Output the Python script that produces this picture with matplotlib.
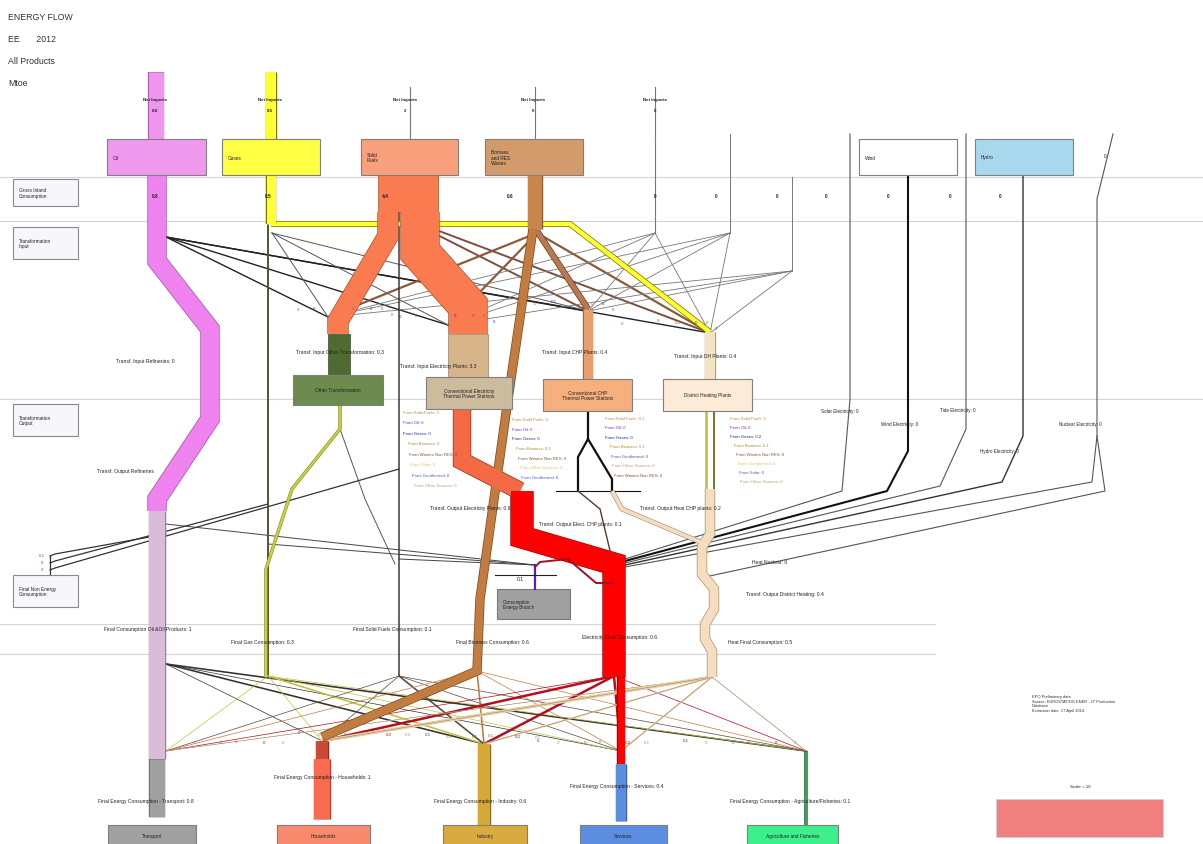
import matplotlib
matplotlib.use('Agg')
import matplotlib.pyplot as plt
from matplotlib.patches import Rectangle

plt.rcParams['font.family'] = ['Liberation Sans', 'DejaVu Sans']

# ---------------- data (Mtoe) ----------------
header = ['ENERGY FLOW', 'EE       2012', 'All Products', 'Mtoe']
products = ['Oil', 'Gases', 'Solid\nFuels', 'Biomass\nand RES\nWastes', 'Wind', 'Hydro']
net_imports = ['0.8', '0.5', '2', '0', '0']
gross_inland = ['0.8', '0.5', '4.4', '0.6', '0', '0', '0', '0', '0', '0', '0']
stages = ['Gross Inland\nConsumption', 'Transformation\nInput', 'Transformation\nOutput',
          'Final Non Energy\nConsumption']
plants = ['Other Transformation', 'Conventional Electricity\nThermal Power Stations',
          'Conventional CHP\nThermal Power Stations', 'District Heating Plants']
transf_input = ['Transf. Input Refineries: 0', 'Transf. Input Other Transformation: 0.3',
                'Transf. Input Electricity Plants: 3.3', 'Transf. Input CHP Plants: 0.4',
                'Transf. Input DH Plants: 0.4']
transf_output = ['Transf. Output Refineries', 'Transf. Output Electricity Plants: 0.9',
                 'Transf. Output Elect. CHP plants: 0.1', 'Transf. Output Heat CHP plants: 0.2',
                 'Transf. Output District Heating: 0.4', 'Heat Nuclear: 0']
res_elec = ['Solar Electricity: 0', 'Wind Electricity: 0', 'Tide Electricity: 0',
            'Hydro Electricity: 0', 'Nuclear Electricity: 0']
from_elec = ['From Solid Fuels: 3', 'From Oil: 0', 'From Gases: 0', 'From Biomass: 0',
             'From Wastes Non RES: 0', 'From Solar: 0', 'From Geothermal: 0', 'From Other Sources: 0']
from_chp_e = ['From Solid Fuels: 0', 'From Oil: 0', 'From Gases: 0', 'From Biomass: 0.1',
              'From Wastes Non RES: 0', 'From Other Sources: 0', 'From Geothermal: 0']
from_chp_h = ['From Solid Fuels: 0.1', 'From Oil: 0', 'From Gases: 0', 'From Biomass: 0.1',
              'From Geothermal: 0', 'From Other Sources: 0', 'From Wastes Non RES: 0']
from_dh = ['From Solid Fuels: 0', 'From Oil: 0', 'From Gases: 0.2', 'From Biomass: 0.1',
           'From Wastes Non RES: 0', 'From Geothermal: 0', 'From Solar: 0', 'From Other Sources: 0']
from_cols = ['#b98a55', '#7a2fc0', '#1f2d80', '#a89030', '#7a5a3a', '#d8c860', '#4a5cc0', '#c0a070']
final_fuel = ['Final Consumption Oil &Oil Products: 1', 'Final Gas Consumption: 0.3',
              'Final Solid Fuels Consumption: 0.1', 'Final Biomass Consumption: 0.6',
              'Electricity Final Consumption: 0.6', 'Heat Final Consumption: 0.5']
sectors = ['Transport', 'Households', 'Industry', 'Services', 'Agriculture and Fisheries']
sector_totals = ['0.8', '1', '0.6', '0.4', '0.1']
# fuel -> sector matrix (rows: oil, gas, solid, biomass, electricity, heat)
fuel_to_sector = [
    [0.8, 0.0, 0.1, 0.0, 0.1],
    [0.0, 0.0, 0.1, 0.0, 0.0],
    [0.0, 0.0, 0.1, 0.0, 0.0],
    [0.0, 0.5, 0.1, 0.0, 0.0],
    [0.0, 0.2, 0.2, 0.2, 0.0],
    [0.0, 0.3, 0.1, 0.1, 0.0],
]
# fuel column -> plant matrix (transformation input, thin links)
ti_values = [
    [0, 0, 0, 0],
    [0, 0, 0, None],
    [None, None, 0.1, 0],
    [0, 0, None, 0.1],
    [0, 0, 0, 0],
    [0, 0, 0, 0],
    [0, 0, 0, 0],
]
non_energy = ['0.1', '0', '0']
notes = 'EPO Preliminary data\nSource: EUROSTAT/DG ENER - LT Production\nDatabase\nExtraction date: 17 April 2014'

# ---------------- figure ----------------
fig = plt.figure(figsize=(12.03, 8.45), dpi=100)
ax = fig.add_axes([0, 0, 1, 1])
ax.set_xlim(0, 1203)
ax.set_ylim(845, 0)
ax.axis('off')

FS = 3.6


def path(pts, w, color, edge=None, z=3, ew=0.7):
    xs = [p[0] for p in pts]
    ys = [p[1] for p in pts]
    if edge:
        ax.plot(xs, ys, color=edge, lw=(w + 2 * ew) * 0.72, solid_capstyle='butt',
                solid_joinstyle='miter', zorder=z)
    ax.plot(xs, ys, color=color, lw=w * 0.72, solid_capstyle='butt',
            solid_joinstyle='miter', zorder=z + 0.01)


def box(x0, y0, x1, y1, fc, label='', ec='#7f7f7f', fs=FS, z=5, center=False, tc='#222222'):
    ax.add_patch(Rectangle((x0, y0), x1 - x0, y1 - y0, fc=fc, ec=ec, lw=0.8, zorder=z))
    if label:
        if center:
            ax.text((x0 + x1) / 2, (y0 + y1) / 2, label, fontsize=fs, ha='center', va='center',
                    zorder=z + 1, color=tc, linespacing=1.1)
        else:
            ax.text(x0 + 6, (y0 + y1) / 2, label, fontsize=fs, ha='left', va='center',
                    zorder=z + 1, color=tc, linespacing=1.1)


def txt(x, y, s, fs=FS, c='#222222', ha='center', z=8, fw='normal'):
    ax.text(x, y, s, fontsize=fs, color=c, ha=ha, va='center', zorder=z, fontweight=fw)


# header
for i, h in enumerate(header):
    ax.text(8, 17 + 22 * i, h, fontsize=6.3, color='#333333', ha='left', va='center')

# separators
for y, x1 in [(178, 1203), (222, 1203), (400, 1203), (625, 935), (655, 935)]:
    ax.plot([0, x1], [y, y], color='#d4d4d4', lw=0.8, zorder=1)

# stage boxes on the left
for lab, (y0, y1) in zip(stages, [(180, 207), (228, 260), (405, 437), (576, 608)]):
    box(13, y0, 78, y1, '#f6f6fb', lab, ec='#8a8a8a', fs=3.4)

# net imports
ni_x = [155, 270, 405, 533, 655]
for x, v in zip(ni_x, net_imports):
    txt(x, 100, 'Net Imports', fs=3.2, fw='bold')
    txt(x, 111, v, fs=3.2, fw='bold')
path([(155.5, 73), (155.5, 140)], 15, '#ee95ee', edge='#b060b0', z=2)
path([(271, 73), (271, 140)], 10, '#ffff33', edge='#777700', z=2)
for x in [410, 535, 655]:
    ax.plot([x, x], [88, 140], color='#777777', lw=0.8, zorder=2)
ax.plot([655, 655], [140, 234], color='#777777', lw=0.8, zorder=2)

# product boxes
prod_box = [(107, 206, '#ee99ee'), (222, 320, '#ffff44'), (361, 458, '#f9a07c'),
            (485, 583, '#d29b6c'), (859, 957, '#ffffff'), (975, 1073, '#a8d8ee')]
for lab, (x0, x1, c) in zip(products, prod_box):
    box(x0, 140, x1, 176, c, lab, fs=3.4)
txt(1105, 157, '0', fs=3.4)

# gross inland values
gi_x = [155, 268, 385, 510, 655, 716, 777, 826, 888, 950, 1000]
for x, v in zip(gi_x, gross_inland):
    txt(x, 197, v, fs=3.4, fw='bold')

# renewable / nuclear columns
res_cols = [
    ([(850, 135), (850, 400), (842, 492), (625, 560)], '#555555', 0.8),
    ([(908, 176), (908, 452), (887, 492), (625, 562)], '#111111', 1.5),
    ([(966, 135), (966, 430), (940, 487), (625, 564)], '#555555', 0.8),
    ([(1023, 176), (1023, 437), (1002, 483), (625, 566)], '#333333', 1.0),
    ([(1113, 135), (1097, 200), (1097, 437), (1092, 483), (625, 568)], '#555555', 0.8),
]
for pts, c, lw in res_cols:
    ax.plot(*zip(*pts), color=c, lw=lw, zorder=2)
ax.plot(*zip(*[(1097, 437), (1105, 492), (705, 578)]), color='#555555', lw=0.8, zorder=2)
ax.plot([730, 730], [135, 234], color='#777777', lw=0.7, zorder=2)
ax.plot(*zip(*[(792, 178), (792, 272)]), color='#777777', lw=0.7, zorder=2)
for lab, (x, y) in zip(res_elec, [(840, 412), (900, 425), (958, 411), (1000, 452), (1080, 425)]):
    txt(x, y, lab, fs=3.3)

# transformation input thin links
ti_src = [(166, 238), (272, 234), (402, 218), (537, 234), (655, 234), (730, 234), (792, 272)]
ti_tgt = [(328, 318), (448, 326), (588, 312), (710, 334)]
ti_col = ['#222222', '#555555', '#7a5040', '#8b5a3c', '#777777', '#777777', '#777777']
ti_lw = [1.0, 0.7, 1.4, 1.6, 0.6, 0.6, 0.6]
for i, row in enumerate(ti_values):
    for j, v in enumerate(row):
        if v is None:
            continue
        (x0, y0), (x1, y1) = ti_src[i], ti_tgt[j]
        ax.plot([x0, x1], [y0, y1], color=ti_col[i], lw=ti_lw[i], zorder=2)
        f = 0.85
        txt(x0 + f * (x1 - x0) - 6, y0 + f * (y1 - y0) + 4, f'{v:g}', fs=3.2,
            c=['#b06030', '#3030a0', '#806030'][(i + j) % 3])

# oil band
path([(157, 176), (157, 262), (210, 330), (210, 420), (157, 500), (157, 512)], 18,
     '#ee82ee', edge='#a050a0', z=4)
path([(157, 512), (157, 760)], 16, '#d8bcd8', edge='#9a7a9a', z=4)
path([(157, 760), (157, 818)], 15, '#a0a0a0', edge='#707070', z=4)
txt(145, 362, transf_input[0])
txt(125, 472, transf_output[0])

# solid fuels
ax.add_patch(Rectangle((378, 176), 60, 37, fc='#f97b4f', ec='#a0502a', lw=0.5, zorder=4))
path([(388, 213), (388, 237), (338, 322), (338, 335)], 20, '#f97b4f', edge='#a0502a', z=4)
path([(420, 213), (420, 253), (468, 307), (468, 335)], 38, '#f97b4f', edge='#a0502a', z=4)
ax.plot([399, 399], [213, 677], color='#3a3a3a', lw=1.1, zorder=3)
ax.add_patch(Rectangle((328, 335), 22, 41, fc='#4f6b32', ec='#3a4f25', lw=0.5, zorder=4))
ax.add_patch(Rectangle((448, 335), 40, 45, fc='#d8b48a', ec='#9a8060', lw=0.5, zorder=4))

# gases
path([(271, 176), (271, 225)], 9, '#ffff33', edge='#777700', z=4)
path([(271, 225), (570, 225), (710, 333)], 4.5, '#ffff33', edge='#6f6f00', z=3)
path([(710, 333), (710, 380)], 10, '#f3e2c4', edge='#b0a080', z=4)
ax.plot([268, 268], [225, 677], color='#55552a', lw=1.4, zorder=3)

# biomass
path([(535, 176), (535, 230)], 14, '#c8864c', edge='#8a5a30', z=4)
path([(533, 230), (508, 400), (480, 600), (477, 672), (322, 738)], 8, '#c27c40',
     edge='#7a4a20', z=4)
path([(537, 232), (588, 310)], 5, '#b87850', edge='#6a4020', z=4)
path([(588, 310), (588, 380)], 9, '#e6a070', edge='#a06a40', z=4)

# plant boxes
plant_box = [(293, 376, 383, 406, '#6d8a4f'), (426, 378, 512, 410, '#cdbb9e'),
             (543, 380, 632, 412, '#f6b07e'), (663, 380, 752, 412, '#fbebd7')]
for lab, (x0, y0, x1, y1, c) in zip(plants, plant_box):
    box(x0, y0, x1, y1, c, lab, fs=3.4, center=True)
for lab, (x, y) in zip(transf_input[1:], [(340, 353), (438, 367), (575, 353), (705, 357)]):
    txt(x, y, lab)

# other transformation output
path([(340, 406), (340, 430), (292, 490), (266, 570), (266, 677)], 2.5, '#c8d040', edge='#6a7020', z=3, ew=0.4)
ax.plot(*zip(*[(340, 430), (365, 500), (395, 565)]), color='#555555', lw=0.7, zorder=2)

# electricity from conventional plants
path([(462, 410), (462, 462), (520, 492)], 17, '#f46a44', edge='#903020', z=4)
path([(522, 492), (522, 538), (614, 565), (614, 678)], 22, '#ff0000', edge='#a00000', z=4)
path([(621, 678), (621, 765)], 7, '#ff0000', edge='#a00000', z=4)
path([(621, 765), (621, 822)], 10, '#5b8de0', edge='#3a60a0', z=4)

# CHP outputs
ax.plot(*zip(*[(588, 412), (588, 440), (578, 458), (578, 492)]), color='#111111', lw=1.6, zorder=4)
ax.plot(*zip(*[(588, 440), (612, 480), (612, 492)]), color='#111111', lw=1.6, zorder=4)
ax.plot([556, 640], [492, 492], color='#111111', lw=0.8, zorder=4)
path([(612, 492), (622, 510), (705, 545)], 4, '#f3dcc0', edge='#8a7050', z=4, ew=0.4)
ax.plot(*zip(*[(578, 492), (600, 510), (612, 560)]), color='#5a3a2a', lw=1.0, zorder=4)

# district heating output
ax.plot([706, 706], [412, 490], color='#b8c040', lw=1.8, zorder=4)
ax.plot([714, 714], [412, 490], color='#6a6a20', lw=1.3, zorder=4)
path([(710, 490), (710, 535), (702, 548), (702, 575), (714, 590), (714, 610), (705, 625),
      (705, 640), (712, 652), (712, 678)], 9, '#f5dec0', edge='#a89070', z=4)

# from-lists
for lst, x0, y0, dy in [(from_elec, 403, 413, 10.5), (from_chp_e, 512, 420, 9.7),
                        (from_chp_h, 605, 419, 9.5), (from_dh, 730, 419, 9.0)]:
    for k, s in enumerate(lst):
        txt(x0 + 1.5 * k if k > 2 else x0, y0 + dy * k, s, fs=3.1, ha='left',
            c=from_cols[k if lst is not from_chp_h else [0, 1, 2, 3, 6, 7, 4][k]])

for lab, (x, y) in zip(transf_output[1:], [(470, 509), (580, 525), (680, 509), (785, 595), (770, 563)]):
    txt(x, y, lab)

# consumption energy branch
box(497, 590, 570, 620, '#a0a0a0', 'Consumption\nEnergy Branch', ec='#7a7a7a', fs=3.3)
ax.plot([535, 535], [566, 590], color='#5020c0', lw=1.6, zorder=5)
ax.plot(*zip(*[(535, 568), (540, 563), (568, 560), (596, 584), (612, 584)]), color='#a01020', lw=1.4, zorder=5)
ax.plot([495, 556], [576, 576], color='#222222', lw=0.8, zorder=5)
txt(520, 580, '0.1')
for p in [(166, 525), (268, 545), (399, 560)]:
    ax.plot([p[0], 535], [p[1], 566], color='#444444', lw=0.7, zorder=2)

# non energy consumption
ne_src = [(166, 535), (268, 505), (399, 470)]
for (x, y), v, yy in zip(ne_src, non_energy, [555, 562, 569]):
    ax.plot([x, 55, 50], [y, yy, yy + 2], color='#333333', lw=0.9, zorder=2)
    txt(42, yy + 1, v, fs=3.2, c='#7a4a8a')
ax.plot([50, 50], [557, 576], color='#333333', lw=0.9, zorder=2)

# final fuel labels
for lab, (x, y) in zip(final_fuel, [(148, 630), (262, 643), (392, 630), (492, 643), (620, 638), (760, 643)]):
    txt(x, y, lab)

# final consumption fan
fuel_nodes = [(166, 665), (268, 677), (399, 677), (477, 672), (614, 677), (712, 678)]
sec_nodes = [(166, 752), (322, 742), (484, 745), (621, 752), (806, 752)]
fan_col = ['#333333', '#c0c040', '#5a4a3a', '#c27c40', '#b01020', '#e8d0a8']
lab_col = ['#3040a0', '#a0a020', '#806040', '#b06020', '#a01020', '#c09060']
for i, row in enumerate(fuel_to_sector):
    for j, v in enumerate(row):
        if i == 0 and j == 0:
            continue
        if i == 3 and j == 1:
            continue
        (x0, y0), (x1, y1) = fuel_nodes[i], sec_nodes[j]
        w = 0.7 + 9 * v
        ax.plot([x0, x1], [y0, y1], color=fan_col[i], lw=w * 0.72, zorder=3)
        if i == 5:
            ax.plot([x0, x1], [y0, y1], color='#8a7050', lw=0.3, zorder=3)
        f = 0.8
        txt(x0 + f * (x1 - x0) + 8, y0 + f * (y1 - y0) + 6, f'{v:g}', fs=3.2, c=lab_col[i])

# sector bands and boxes
path([(322, 742), (322, 760)], 12, '#c84a38', edge='#803020', z=4)
path([(322, 760), (322, 820)], 16, '#fa6a50', edge='#b04030', z=4)
path([(484, 745), (484, 830)], 12, '#d6a838', edge='#8a6a20', z=4)
path([(806, 752), (806, 826)], 3, '#40a060', edge='#206030', z=4, ew=0.3)
sec_box = [(108, 196, '#a0a0a0'), (277, 370, '#fa8a6e'), (443, 527, '#d8aa40'),
           (580, 667, '#5b8de0'), (747, 838, '#3cf08c')]
for lab, (x0, x1, c) in zip(sectors, sec_box):
    box(x0, 826, x1, 848, c, lab, fs=3.4, center=True)
for s, t, (x, y) in zip(sectors, sector_totals, [(146, 802), (322, 778), (480, 802), (617, 787), (790, 802)]):
    name = 'Agriculture/Fisheries' if s.startswith('Agri') else s
    txt(x, y, f'Final Energy Consumption - {name}: {t}')

# notes + scale
ax.text(1032, 704, notes, fontsize=2.9, ha='left', va='center', color='#333333', linespacing=1.2)
txt(1080, 787, 'Scale = 10', fs=3.2)
ax.add_patch(Rectangle((996, 800), 167, 38, fc='#f08080', ec='#d0d0d0', lw=0.6, zorder=2))

fig.savefig('out.png', dpi=100)
